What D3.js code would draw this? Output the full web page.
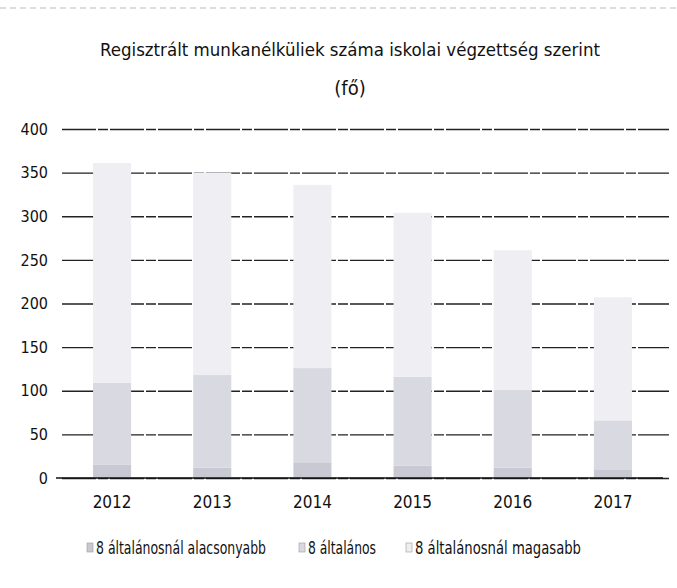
<!DOCTYPE html>
<html><head><meta charset="utf-8">
<script src="https://cdn.jsdelivr.net/npm/d3@7"></script>
<style>
body{margin:0;background:#fff;}
text{font-family:"DejaVu Sans Condensed","Liberation Sans Narrow","Open Sans",sans-serif;fill:#111;}
</style></head><body>
<svg id="c" width="677" height="588"></svg>
<script>
const years = ["2012","2013","2014","2015","2016","2017"];
const seriesNames = ["8 általánosnál alacsonyabb","8 általános","8 általánosnál magasabb"];
const alacsonyabb = [15, 12, 18, 14, 12, 10];
const altalanos = [94, 106, 108, 102, 89, 56];
const magasabb = [252, 232, 210, 188, 160, 141];
const yTicks = [0,50,100,150,200,250,300,350,400];
const colors = ["#c9c9d3","#d9d9e2","#eeeef3"];

const svg = d3.select("#c");
const m = {l:62, r:14, t:129, b:110};
const W = 677, H = 588;
const x = d3.scaleBand().domain(years).range([m.l, W - m.r]).paddingInner(0.62).paddingOuter(0.31);
const y = d3.scaleLinear().domain([0,400]).range([H - m.b, m.t]);

// scan border hints
svg.append("line").attr("x1",0).attr("x2",677).attr("y1",8).attr("y2",8)
  .attr("stroke","#bbb").attr("stroke-dasharray","6,4");

// title
svg.append("text").attr("x",350).attr("y",56).attr("text-anchor","middle")
  .style("font-size","18.5px").text("Regisztrált munkanélküliek száma iskolai végzettség szerint");
svg.append("text").attr("x",350).attr("y",95).attr("text-anchor","middle")
  .style("font-size","20px").text("(fő)");

// grid
const yAxis = d3.axisLeft(y).tickValues(yTicks).tickSize(-(W - m.r - m.l + 6)).tickPadding(14);
const ga = svg.append("g").attr("transform",`translate(${m.l},0)`).call(yAxis);
ga.select(".domain").remove();
ga.selectAll(".tick line").attr("stroke","#222").attr("stroke-width",1.4).attr("stroke-dasharray","34,2,10,2");
ga.selectAll(".tick text").style("font-size","16px").attr("fill","#111");

// stacked bars
const rows = years.map((yr,i)=>({year:yr, a:alacsonyabb[i], b:altalanos[i], c:magasabb[i]}));
const stack = d3.stack().keys(["a","b","c"])(rows);
svg.append("g").selectAll("g").data(stack).join("g").attr("fill",(d,i)=>colors[i])
  .selectAll("rect").data(d=>d).join("rect")
  .attr("x",d=>x(d.data.year)).attr("width",x.bandwidth())
  .attr("y",d=>y(d[1])).attr("height",d=>y(d[0])-y(d[1]));

// baseline
svg.append("line").attr("x1",m.l-6).attr("x2",W-m.r).attr("y1",y(0)).attr("y2",y(0))
  .attr("stroke","#111").attr("stroke-width",1.6);

// x axis labels
const xa = svg.append("g").attr("transform",`translate(0,${y(0)})`)
  .call(d3.axisBottom(x).tickSize(0).tickPadding(18));
xa.select(".domain").remove();
xa.selectAll("text").style("font-size","17px").attr("fill","#111");

// legend
const legX = [87, 299, 406];
const legLen = [170, 68, 166];
const lg = svg.append("g").selectAll("g").data(seriesNames).join("g")
  .attr("transform",(d,i)=>`translate(${legX[i]},554)`);
lg.append("rect").attr("x",0).attr("y",-11).attr("width",6).attr("height",9).attr("fill",(d,i)=>colors[i]).attr("stroke","#999").attr("stroke-width",0.6);
lg.append("text").attr("x",9).attr("y",0).style("font-size","18px")
  .attr("textLength",(d,i)=>legLen[i]).attr("lengthAdjust","spacingAndGlyphs").text(d=>d);
</script></body></html>
